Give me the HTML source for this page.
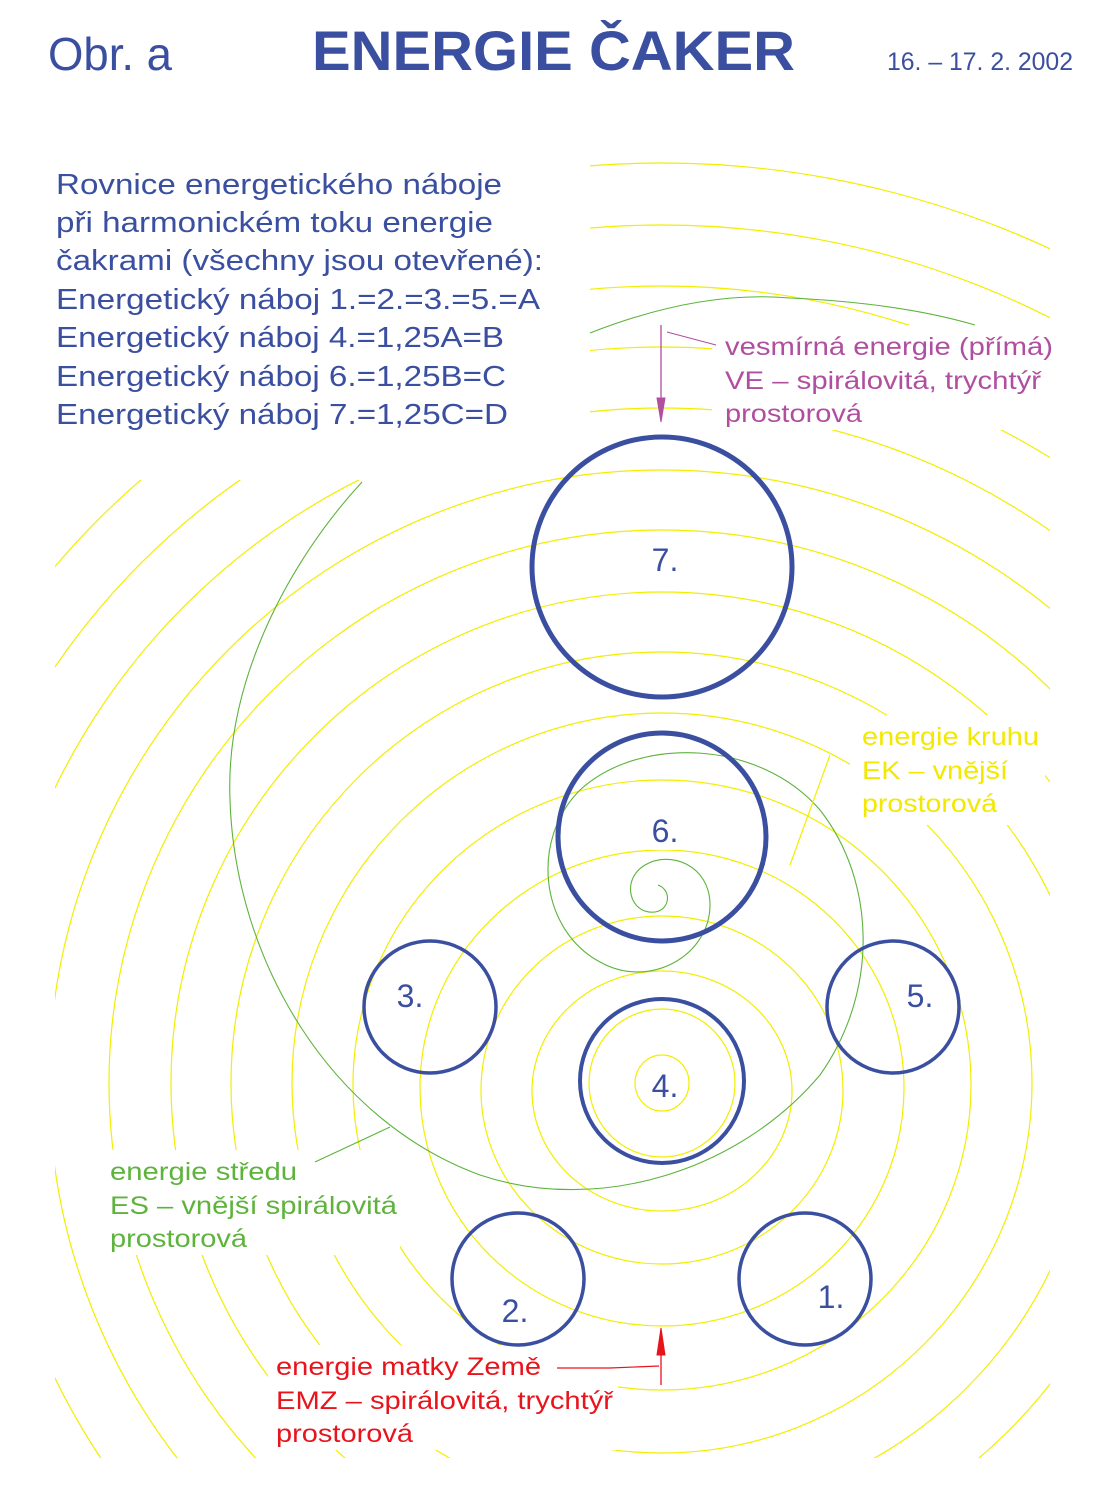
<!DOCTYPE html>
<html><head><meta charset="utf-8"><style>
html,body{margin:0;padding:0;background:#fff;width:1119px;height:1500px;overflow:hidden;}
svg{display:block;}
text{font-family:"Liberation Sans",sans-serif;}
</style></head><body>
<svg width="1119" height="1500" viewBox="0 0 1119 1500" xmlns="http://www.w3.org/2000/svg">
<defs>
<clipPath id="c"><rect x="55" y="150" width="995" height="1308"/></clipPath>
<mask id="m">
<rect x="0" y="0" width="1119" height="1500" fill="#fff"/>
<rect x="0" y="150" width="550" height="330" fill="#000"/>
<rect x="0" y="150" width="590" height="285" fill="#000"/>
<rect x="712" y="325" width="345" height="105" fill="#000"/>
<rect x="850" y="715" width="195" height="110" fill="#000"/>
<rect x="100" y="1150" width="300" height="105" fill="#000"/>
<rect x="268" y="1345" width="350" height="105" fill="#000"/>
<rect x="630" y="535" width="65" height="45" fill="#000"/>
<rect x="630" y="805" width="65" height="45" fill="#000"/>
</mask>
</defs>
<g clip-path="url(#c)" mask="url(#m)" fill="none" stroke="#f2ee00" stroke-width="1.2">
<ellipse cx="662" cy="1083" rx="27" ry="28"/>
<ellipse cx="662" cy="1083" rx="73" ry="74"/>
<ellipse cx="662" cy="1091" rx="130" ry="120"/>
<ellipse cx="662" cy="1090" rx="181" ry="174"/>
<ellipse cx="662" cy="1088" rx="242" ry="238"/>
<ellipse cx="662" cy="1085" rx="309" ry="305"/>
<circle cx="662" cy="1083" r="370"/>
<circle cx="662" cy="1083" r="431"/>
<circle cx="662" cy="1083" r="491"/>
<circle cx="662" cy="1083" r="553"/>
<circle cx="662" cy="1083" r="613"/>
<circle cx="662" cy="1083" r="675"/>
<circle cx="662" cy="1083" r="736"/>
<circle cx="662" cy="1083" r="797"/>
<circle cx="662" cy="1083" r="858"/>
<circle cx="662" cy="1083" r="920"/>
</g>
<!-- green -->
<g fill="none" stroke="#5db33c" stroke-width="1.1">
<path d="M590,333 Q700,290 790,298 Q900,303 975,325"/>
<path d="M362,482 C290,560 225,680 230,800 C235,960 330,1120 480,1175 C600,1215 740,1170 820,1075 C880,990 875,880 820,810 C760,740 640,735 580,790 C530,840 540,930 600,962 C650,990 710,955 710,905 C710,865 670,850 645,865 C620,880 630,915 655,912 C670,910 672,890 658,885"/>
<line x1="315" y1="1162" x2="390" y2="1127"/>
</g>
<line x1="830" y1="755" x2="790" y2="865" stroke="#f2ee00" stroke-width="1.2"/>
<g stroke="#b04ea0" fill="#b04ea0">
<line x1="661" y1="325" x2="661" y2="405" stroke-width="1.3"/>
<polygon points="657,398 665,398 661,422"/>
<line x1="667" y1="332" x2="716" y2="345" stroke-width="1"/>
</g>
<g stroke="#e8141c" fill="#e8141c">
<line x1="661" y1="1385" x2="661" y2="1345" stroke-width="1.3"/>
<polygon points="657,1355 665,1355 661,1328"/>
<polyline points="557,1368 610,1368 659,1366" fill="none" stroke-width="1.2"/>
</g>
<g fill="none" stroke="#3a4fa0">
<circle cx="662" cy="567" r="130" stroke-width="5"/>
<circle cx="662" cy="837" r="104" stroke-width="5"/>
<circle cx="662" cy="1081" r="82" stroke-width="4"/>
<circle cx="430" cy="1007" r="66" stroke-width="3.5"/>
<circle cx="893" cy="1007" r="66" stroke-width="3.5"/>
<circle cx="518" cy="1279" r="66" stroke-width="3.5"/>
<circle cx="805" cy="1279" r="66" stroke-width="3.5"/>
</g>
<g fill="#3a4fa0" font-size="32" text-anchor="middle">
<text x="665" y="571">7.</text>
<text x="665" y="842">6.</text>
<text x="665" y="1097">4.</text>
<text x="410" y="1007">3.</text>
<text x="920" y="1007">5.</text>
<text x="515" y="1322">2.</text>
<text x="831" y="1308">1.</text>
</g>
<g fill="#3a4fa0">
<text x="48" y="70" font-size="46" textLength="124" lengthAdjust="spacingAndGlyphs">Obr. a</text>
<text x="312" y="70" font-size="56" font-weight="bold" textLength="483" lengthAdjust="spacingAndGlyphs">ENERGIE ČAKER</text>
<text x="887" y="70" font-size="25" textLength="186" lengthAdjust="spacingAndGlyphs">16. – 17. 2. 2002</text>
</g>
<g fill="#3a4fa0" font-size="29">
<text x="56" y="194" textLength="446" lengthAdjust="spacingAndGlyphs">Rovnice energetického náboje</text>
<text x="56" y="232" textLength="437" lengthAdjust="spacingAndGlyphs">při harmonickém toku energie</text>
<text x="56" y="270" textLength="487" lengthAdjust="spacingAndGlyphs">čakrami (všechny jsou otevřené):</text>
<text x="56" y="309" textLength="484" lengthAdjust="spacingAndGlyphs">Energetický náboj 1.=2.=3.=5.=A</text>
<text x="56" y="347" textLength="448" lengthAdjust="spacingAndGlyphs">Energetický náboj 4.=1,25A=B</text>
<text x="56" y="386" textLength="450" lengthAdjust="spacingAndGlyphs">Energetický náboj 6.=1,25B=C</text>
<text x="56" y="424" textLength="452" lengthAdjust="spacingAndGlyphs">Energetický náboj 7.=1,25C=D</text>
</g>
<g fill="#b04ea0" font-size="25">
<text x="725" y="355" textLength="328" lengthAdjust="spacingAndGlyphs">vesmírná energie (přímá)</text>
<text x="725" y="389" textLength="316" lengthAdjust="spacingAndGlyphs">VE – spirálovitá, trychtýř</text>
<text x="725" y="422" textLength="137" lengthAdjust="spacingAndGlyphs">prostorová</text>
</g>
<g fill="#f2e800" font-size="25">
<text x="862" y="745" textLength="177" lengthAdjust="spacingAndGlyphs">energie kruhu</text>
<text x="862" y="779" textLength="146" lengthAdjust="spacingAndGlyphs">EK – vnější</text>
<text x="862" y="812" textLength="135" lengthAdjust="spacingAndGlyphs">prostorová</text>
</g>
<g fill="#5db33c" font-size="25">
<text x="110" y="1180" textLength="187" lengthAdjust="spacingAndGlyphs">energie středu</text>
<text x="110" y="1214" textLength="287" lengthAdjust="spacingAndGlyphs">ES – vnější spirálovitá</text>
<text x="110" y="1247" textLength="137" lengthAdjust="spacingAndGlyphs">prostorová</text>
</g>
<g fill="#e8141c" font-size="25">
<text x="276" y="1375" textLength="265" lengthAdjust="spacingAndGlyphs">energie matky Země</text>
<text x="276" y="1409" textLength="337" lengthAdjust="spacingAndGlyphs">EMZ – spirálovitá, trychtýř</text>
<text x="276" y="1442" textLength="137" lengthAdjust="spacingAndGlyphs">prostorová</text>
</g>
</svg>
</body></html>
